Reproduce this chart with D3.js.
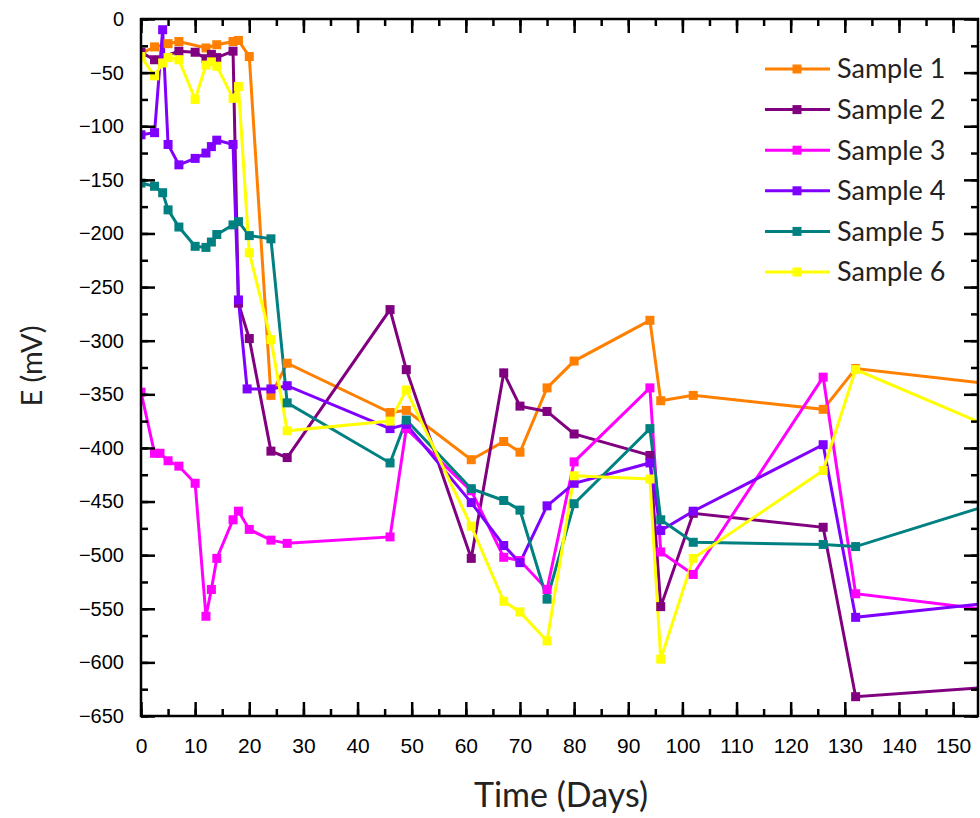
<!DOCTYPE html>
<html><head><meta charset="utf-8">
<script src="https://cdn.jsdelivr.net/npm/d3@7"></script>
<style>body{margin:0;background:#fff}svg{display:block}</style>
</head><body><svg id="c" width="980" height="818"></svg>
<script>
const seriesNames = ["Sample 1","Sample 2","Sample 3","Sample 4","Sample 5","Sample 6"];
const seriesColors = ["#FF8000","#800080","#FF00FF","#8000FF","#008080","#FFFF00"];
const days1 = [0,2.5,5,7,12,14,17,18,20,24,27,46,49,61,67,70,75,80,94,96,102,126,132,160];
const vals1 = [-32,-26,-23,-21,-27,-24,-21,-20,-35,-351,-321,-367,-365,-411,-394,-404,-344,-319,-281,-356,-351,-364,-326,-342];
const days2 = [0,2.5,7,10,12,13,14,17,18,20,24,27,46,49,61,67,70,75,80,94,96,102,126,132,160];
const vals2 = [-31,-38,-30,-31,-37,-33,-36,-30,-265,-298,-403,-409,-271,-327,-503,-330,-361,-366,-387,-407,-548,-461,-474,-632,-622];
const days3 = [0,2.5,3.5,5,7,10,12,13,14,17,18,20,24,27,46,49,61,67,70,75,80,94,96,102,126,132,160];
const vals3 = [-348,-405,-405,-412,-417,-433,-557,-532,-503,-467,-459,-476,-486,-489,-483,-382,-440,-502,-505,-532,-413,-344,-497,-518,-334,-536,-553];
const days4 = [0,2.5,4,5,7,10,12,13,14,17,18,19.6,24,27,46,49,61,67,70,75,80,94,96,102,126,132,160];
const vals4 = [-108,-106,-10,-117,-136,-130,-125,-119,-113,-117,-262,-345,-345,-342,-382,-378,-451,-491,-507,-454,-433,-414,-477,-459,-397,-558,-543];
const days5 = [0,2.5,4,5,7,10,12,13,14,17,18,20,24,27,46,49,61,67,70,75,80,94,96,102,126,132,160];
const vals5 = [-153,-156,-162,-178,-194,-212,-213,-208,-201,-192,-189,-202,-205,-358,-414,-374,-438,-449,-458,-541,-452,-382,-467,-488,-490,-492,-448];
const days6 = [0,2.5,4,5,7,10,12,13,14,17,18,20,24,27,46,49,61,67,70,75,80,94,96,102,126,132,160];
const vals6 = [-35,-53,-41,-36,-38,-75,-43,-40,-44,-74,-63,-218,-299,-384,-375,-346,-473,-543,-553,-580,-426,-429,-597,-503,-421,-327,-387];
const xTicks = d3.range(0,151,10);
const yTicks = d3.range(0,-651,-50);

const allDays = [days1,days2,days3,days4,days5,days6];
const allVals = [vals1,vals2,vals3,vals4,vals5,vals6];
const series = seriesNames.map((n,i)=>({name:n,color:seriesColors[i],pts:allDays[i].map((d,j)=>({x:d,y:allVals[i][j]}))}));

const L=141,R=978,T=19,B=716;
const svg=d3.select("#c");
const x=d3.scaleLinear().domain([0,154.6]).range([L,R]);
const y=d3.scaleLinear().domain([-650,0]).range([B,T]);

svg.append("defs").append("clipPath").attr("id","clip").append("rect")
  .attr("x",L).attr("y",T-6).attr("width",R-L).attr("height",B-T+12);

const g=svg.append("g").attr("clip-path","url(#clip)");
const line=d3.line().x(d=>x(d.x)).y(d=>y(d.y));
series.forEach(s=>{
  g.append("path").attr("d",line(s.pts)).attr("fill","none").attr("stroke",s.color).attr("stroke-width",3);
});
series.forEach(s=>{
  g.selectAll(null).data(s.pts).enter().append("rect")
   .attr("x",d=>x(d.x)-4.5).attr("y",d=>y(d.y)-4.5).attr("width",9).attr("height",9).attr("fill",s.color);
});

// axes
const tickFont="'Liberation Sans Narrow','Liberation Sans',Arial,sans-serif";
const xMinor=d3.range(0,155,5), yMinor=d3.range(0,-651,-25);
function styleAxis(sel){sel.select(".domain").remove();sel.selectAll("line").attr("stroke","#000").attr("stroke-width",2.5);}
const xb=svg.append("g").attr("transform",`translate(0,${B})`)
  .call(d3.axisBottom(x).tickValues(xMinor).tickSize(-7).tickFormat(""));styleAxis(xb);
const xB=svg.append("g").attr("transform",`translate(0,${B})`)
  .call(d3.axisBottom(x).tickValues(xTicks).tickSize(-14).tickFormat(d3.format("d")));
styleAxis(xB);
xB.selectAll("text").attr("font-family",tickFont).attr("font-size",21).attr("fill","#000").attr("dy","0.71em").attr("y",22);
const xt=svg.append("g").attr("transform",`translate(0,${T})`)
  .call(d3.axisTop(x).tickValues(xMinor).tickSize(-7).tickFormat(""));styleAxis(xt);
const xT=svg.append("g").attr("transform",`translate(0,${T})`)
  .call(d3.axisTop(x).tickValues(xTicks).tickSize(-14).tickFormat(""));styleAxis(xT);

const yl=svg.append("g").attr("transform",`translate(${L},0)`)
  .call(d3.axisLeft(y).tickValues(yMinor).tickSize(-7).tickFormat(""));styleAxis(yl);
const yL=svg.append("g").attr("transform",`translate(${L},0)`)
  .call(d3.axisLeft(y).tickValues(yTicks).tickSize(-14).tickFormat(d3.format("d")));styleAxis(yL);
yL.selectAll("text").attr("font-family","'Liberation Sans',Arial,sans-serif").attr("font-size",20).attr("fill","#000").attr("x",-17);
const yr=svg.append("g").attr("transform",`translate(${R},0)`)
  .call(d3.axisRight(y).tickValues(yMinor).tickSize(-7).tickFormat(""));styleAxis(yr);
const yR=svg.append("g").attr("transform",`translate(${R},0)`)
  .call(d3.axisRight(y).tickValues(yTicks).tickSize(-14).tickFormat(""));styleAxis(yR);

svg.append("rect").attr("x",L).attr("y",T).attr("width",R-L).attr("height",B-T)
  .attr("fill","none").attr("stroke","#000").attr("stroke-width",2.5);

const titleFont="Lato,'Open Sans',sans-serif";
svg.append("text").attr("x",561).attr("y",807).attr("text-anchor","middle")
  .attr("font-family",titleFont).attr("font-size",34).attr("fill","#222").text("Time (Days)");
svg.append("text").attr("transform","translate(42,366) rotate(-90)").attr("text-anchor","middle")
  .attr("font-family",titleFont).attr("font-size",29).attr("fill","#222").text("E (mV)");

// legend
const lg=svg.append("g");
series.forEach((s,i)=>{
  const yy=69+i*40.6;
  lg.append("line").attr("x1",765).attr("x2",830).attr("y1",yy).attr("y2",yy).attr("stroke",s.color).attr("stroke-width",3);
  lg.append("rect").attr("x",797-4.5).attr("y",yy-4.5).attr("width",9).attr("height",9).attr("fill",s.color);
  lg.append("text").attr("x",837).attr("y",yy).attr("dy","0.35em").attr("font-family",titleFont)
    .attr("font-size",27).attr("fill","#222").text(s.name);
});
</script></body></html>
